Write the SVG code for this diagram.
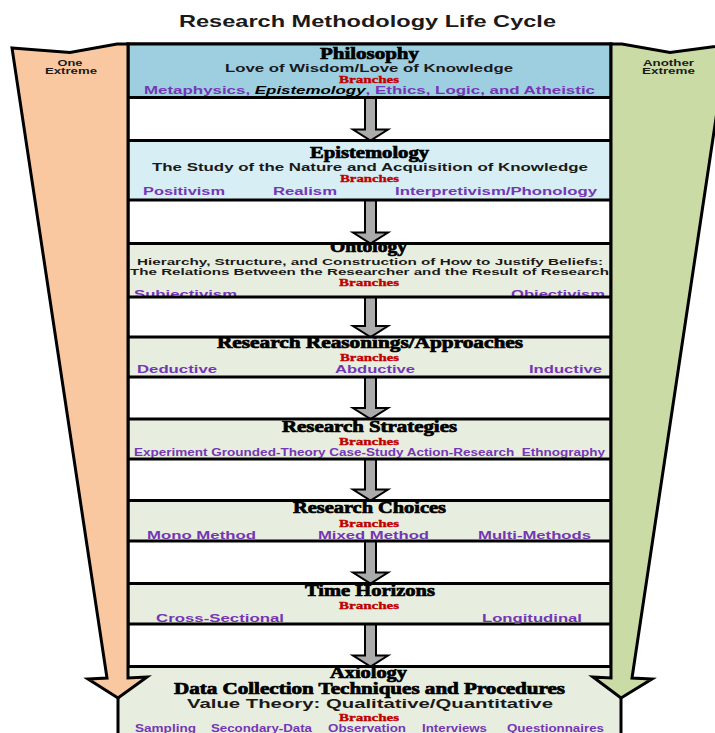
<svg xmlns="http://www.w3.org/2000/svg" width="715" height="733" viewBox="0 0 715 733">
  <style>
    .ttl { font-family: "Liberation Serif", "Times New Roman", serif; font-weight: bold; fill: #000; stroke: #000; stroke-width: 0.7; text-anchor: middle; }
    .sub { font-family: "Liberation Sans", Arial, sans-serif; font-weight: bold; fill: #1a1a1a; text-anchor: middle; }
    .br { font-family: "Liberation Serif", "Times New Roman", serif; font-weight: bold; font-size: 11px; fill: #c00000; stroke: #c00000; stroke-width: 0.35; text-anchor: middle; }
    .pu { font-family: "Liberation Sans", Arial, sans-serif; font-weight: bold; font-size: 10.5px; fill: #7536b5; text-anchor: middle; }
    .ext { font-family: "Liberation Sans", Arial, sans-serif; font-weight: bold; font-size: 9px; fill: #1a1a1a; text-anchor: middle; }
    .box { stroke: #000; stroke-width: 3; }
    .green { fill: #e8eedf; }
    .flow { fill: #ababab; stroke: #000; stroke-width: 2; stroke-linejoin: miter; }
    .side { stroke: #000; stroke-width: 3; stroke-linejoin: miter; }
  </style>
  <defs>
    <clipPath id="clip-onto"><rect x="128" y="243.5" width="483" height="53.5"/></clipPath>
    <clipPath id="clip-reas"><rect x="128" y="337" width="483" height="40"/></clipPath>
    <clipPath id="clip-strat"><rect x="128" y="419" width="483" height="40"/></clipPath>
  </defs>

  <rect width="715" height="733" fill="#fff"/>

  <text id="title" class="sub" x="367.5" y="27" font-size="16.5" textLength="377" lengthAdjust="spacingAndGlyphs">Research Methodology Life Cycle</text>

  <!-- central column frame; the gaps between stages stay white -->
  <rect id="column" class="box" x="128" y="44" width="483" height="625" fill="#fff"/>

  <!-- downward flow arrows between stages -->
  <g id="connectors">
    <polygon class="flow" points="365,97.5 376,97.5 376,129.5 388,129.5 370.5,140.5 353,129.5 365,129.5"/>
    <polygon class="flow" points="365,200 376,200 376,232.5 388,232.5 370.5,243.5 353,232.5 365,232.5"/>
    <polygon class="flow" points="365,297 376,297 376,326 388,326 370.5,337 353,326 365,326"/>
    <polygon class="flow" points="365,377 376,377 376,408 388,408 370.5,419 353,408 365,408"/>
    <polygon class="flow" points="365,459 376,459 376,489.5 388,489.5 370.5,500.5 353,489.5 365,489.5"/>
    <polygon class="flow" points="365,541 376,541 376,572.5 388,572.5 370.5,583.5 353,572.5 365,572.5"/>
    <polygon class="flow" points="365,624 376,624 376,655.5 388,655.5 370.5,666.5 353,655.5 365,655.5"/>
  </g>

  <g id="philosophy">
    <rect class="box" x="128" y="44" width="483" height="53.5" fill="#9dcfe0"/>
    <text class="ttl" x="369.5" y="58.5" font-size="17" textLength="99" lengthAdjust="spacingAndGlyphs">Philosophy</text>
    <text class="sub" x="369" y="71.7" font-size="11.5" textLength="288" lengthAdjust="spacingAndGlyphs">Love of Wisdom/Love of Knowledge</text>
    <text class="br" x="369" y="82.7" textLength="60" lengthAdjust="spacingAndGlyphs">Branches</text>
    <text class="pu" x="369.5" y="94.3" textLength="451" lengthAdjust="spacingAndGlyphs">Metaphysics, <tspan fill="#000" font-style="italic">Epistemology</tspan>, Ethics, Logic, and Atheistic</text>
  </g>

  <g id="epistemology">
    <rect class="box" x="128" y="140.5" width="483" height="59.5" fill="#d7eef5"/>
    <text class="ttl" x="369.5" y="157.7" font-size="16.5" textLength="119" lengthAdjust="spacingAndGlyphs">Epistemology</text>
    <text class="sub" x="370" y="170.7" font-size="10" textLength="436" lengthAdjust="spacingAndGlyphs">The Study of the Nature and Acquisition of Knowledge</text>
    <text class="br" x="369.5" y="181.7" textLength="59" lengthAdjust="spacingAndGlyphs">Branches</text>
    <text class="pu" x="184" y="195" textLength="82" lengthAdjust="spacingAndGlyphs">Positivism</text>
    <text class="pu" x="305" y="195" textLength="64" lengthAdjust="spacingAndGlyphs">Realism</text>
    <text class="pu" x="496" y="195" textLength="202" lengthAdjust="spacingAndGlyphs">Interpretivism/Phonology</text>
  </g>

  <g id="ontology">
    <rect class="green" x="128" y="243.5" width="483" height="53.5"/>
    <g clip-path="url(#clip-onto)">
      <text class="ttl" x="368.5" y="251.7" font-size="16.5" textLength="77" lengthAdjust="spacingAndGlyphs">Ontology</text>
      <text class="pu" x="185.5" y="297.5" font-size="11" textLength="103" lengthAdjust="spacingAndGlyphs">Subjectivism</text>
      <text class="pu" x="558" y="297.5" font-size="11" textLength="94" lengthAdjust="spacingAndGlyphs">Objectivism</text>
    </g>
    <text class="sub" x="370" y="265" font-size="9" textLength="466" lengthAdjust="spacingAndGlyphs">Hierarchy, Structure, and Construction of How to Justify Beliefs:</text>
    <text class="sub" x="369.5" y="275" font-size="9" textLength="479" lengthAdjust="spacingAndGlyphs">The Relations Between the Researcher and the Result of Research</text>
    <text class="br" x="369" y="286" textLength="60" lengthAdjust="spacingAndGlyphs">Branches</text>
    <rect class="box" x="128" y="243.5" width="483" height="53.5" fill="none"/>
  </g>

  <g id="reasonings">
    <rect class="green" x="128" y="337" width="483" height="40"/>
    <g clip-path="url(#clip-reas)">
      <text class="ttl" x="370" y="348.3" font-size="16" textLength="306" lengthAdjust="spacingAndGlyphs">Research Reasonings/Approaches</text>
    </g>
    <text class="br" x="369.5" y="361.3" textLength="59" lengthAdjust="spacingAndGlyphs">Branches</text>
    <text class="pu" x="177" y="373.3" textLength="80" lengthAdjust="spacingAndGlyphs">Deductive</text>
    <text class="pu" x="375" y="373.3" textLength="80" lengthAdjust="spacingAndGlyphs">Abductive</text>
    <text class="pu" x="565.5" y="373.3" textLength="73" lengthAdjust="spacingAndGlyphs">Inductive</text>
    <rect class="box" x="128" y="337" width="483" height="40" fill="none"/>
  </g>

  <g id="strategies">
    <rect class="green" x="128" y="419" width="483" height="40"/>
    <g clip-path="url(#clip-strat)">
      <text class="ttl" x="369.5" y="431.7" font-size="16.5" textLength="175" lengthAdjust="spacingAndGlyphs">Research Strategies</text>
    </g>
    <text class="br" x="369" y="445" textLength="60" lengthAdjust="spacingAndGlyphs">Branches</text>
    <text class="pu" x="369.5" y="455.7" font-size="9.5" textLength="471" lengthAdjust="spacingAndGlyphs" xml:space="preserve">Experiment Grounded-Theory Case-Study Action-Research  Ethnography</text>
    <rect class="box" x="128" y="419" width="483" height="40" fill="none"/>
  </g>

  <g id="choices">
    <rect class="box green" x="128" y="500.5" width="483" height="40.5"/>
    <text class="ttl" x="369.5" y="513.3" font-size="16.5" textLength="153" lengthAdjust="spacingAndGlyphs">Research Choices</text>
    <text class="br" x="369" y="526.7" textLength="60" lengthAdjust="spacingAndGlyphs">Branches</text>
    <text class="pu" x="201.5" y="539" textLength="109" lengthAdjust="spacingAndGlyphs">Mono Method</text>
    <text class="pu" x="373.5" y="539" textLength="111" lengthAdjust="spacingAndGlyphs">Mixed Method</text>
    <text class="pu" x="534.5" y="539" textLength="113" lengthAdjust="spacingAndGlyphs">Multi-Methods</text>
  </g>

  <g id="time-horizons">
    <rect class="box green" x="128" y="583.5" width="483" height="40.5"/>
    <text class="ttl" x="370" y="596" font-size="16.5" textLength="130" lengthAdjust="spacingAndGlyphs">Time Horizons</text>
    <text class="br" x="369" y="609.3" textLength="60" lengthAdjust="spacingAndGlyphs">Branches</text>
    <text class="pu" x="220" y="621.7" textLength="128" lengthAdjust="spacingAndGlyphs">Cross-Sectional</text>
    <text class="pu" x="532" y="621.7" textLength="100" lengthAdjust="spacingAndGlyphs">Longitudinal</text>
  </g>

  <g id="axiology">
    <rect class="box green" x="118" y="666.5" width="503" height="75"/>
    <text class="ttl" x="368.5" y="678.3" font-size="16" textLength="77" lengthAdjust="spacingAndGlyphs">Axiology</text>
    <text class="ttl" x="369.5" y="694" font-size="16" textLength="391" lengthAdjust="spacingAndGlyphs">Data Collection Techniques and Procedures</text>
    <text class="sub" x="370" y="708.3" font-size="13" textLength="366" lengthAdjust="spacingAndGlyphs">Value Theory: Qualitative/Quantitative</text>
    <text class="br" x="369" y="721" textLength="60" lengthAdjust="spacingAndGlyphs">Branches</text>
    <text class="pu" x="165.5" y="731.7" font-size="9.5" textLength="61" lengthAdjust="spacingAndGlyphs">Sampling</text>
    <text class="pu" x="261.5" y="731.7" font-size="9.5" textLength="101" lengthAdjust="spacingAndGlyphs">Secondary-Data</text>
    <text class="pu" x="367" y="731.7" font-size="9.5" textLength="78" lengthAdjust="spacingAndGlyphs">Observation</text>
    <text class="pu" x="454.5" y="731.7" font-size="9.5" textLength="65" lengthAdjust="spacingAndGlyphs">Interviews</text>
    <text class="pu" x="555.5" y="731.7" font-size="9.5" textLength="97" lengthAdjust="spacingAndGlyphs">Questionnaires</text>
  </g>

  <!-- tapered side arrows framing the column -->
  <g id="one-extreme">
    <polygon class="side" fill="#f9c8a1" points="12,48 70,52.5 117,44 128,44 128,678 147,677 118,698 88,679 107,678"/>
    <text class="ext" x="70" y="65.7" textLength="25" lengthAdjust="spacingAndGlyphs">One</text>
    <text class="ext" x="71" y="74.3" textLength="52" lengthAdjust="spacingAndGlyphs">Extreme</text>
  </g>

  <g id="another-extreme">
    <polygon class="side" fill="#cbdba5" points="611,44 622,44 670,52.5 727,45 632,678 652,679 621,698 593,677 611,678"/>
    <text class="ext" x="668.5" y="65.7" textLength="51" lengthAdjust="spacingAndGlyphs">Another</text>
    <text class="ext" x="668.5" y="74.3" textLength="53" lengthAdjust="spacingAndGlyphs">Extreme</text>
  </g>
</svg>
